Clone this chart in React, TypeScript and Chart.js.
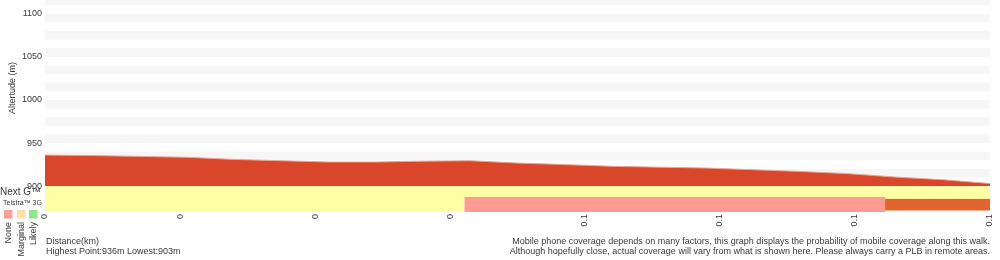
import React, { useEffect, useRef } from 'react';
import { Chart, registerables } from 'chart.js';
Chart.register(...registerables);

const distances = [0, 0.005, 0.01, 0.015, 0.02, 0.025, 0.03, 0.035, 0.04, 0.045, 0.05, 0.055, 0.06, 0.065, 0.07, 0.075, 0.08, 0.085, 0.09, 0.095, 0.1];
const elevations = [936, 935.5, 934.5, 933.5, 931, 929.5, 928, 928, 929, 929.5, 926.8, 925, 923, 922, 921, 919, 917, 914.5, 910.5, 907.5, 903];

const xTickValues = [0, 0.0143, 0.0286, 0.0429, 0.0571, 0.0714, 0.0857, 0.1];
const xTickLabels = ['0', '0', '0', '0', '0.1', '0.1', '0.1', '0.1'];
const yTickValues = [900, 950, 1000, 1050, 1100];

const nextGStart = [0];
const nextGEnd = [0.1];
const nextGLevel = ['marginal'];
const g3Start = [0, 0.0444, 0.0889];
const g3End = [0.0444, 0.0889, 0.1];
const g3Level = ['marginal', 'none', 'unknown'];

const legendLabels = ['None', 'Marginal', 'Likely'];
const legendColors = ['#ff9e9a', '#ffe0a8', '#8ce88c'];
const levelColors: Record<string, string> = { marginal: '#ffffa6', none: '#ff9a94', unknown: '#e0652e' };

const FONT = '"Liberation Sans", Arial, sans-serif';
const TEXT = '#3a3a3a';

const decoPlugin = {
  id: 'deco',
  beforeDatasetsDraw(chart: any) {
    const { ctx, chartArea, scales } = chart;
    const y = scales.y;
    ctx.save();
    ctx.fillStyle = '#f6f6f6';
    for (let v = 1120; v >= 920; v -= 20) {
      const t = Math.max(y.getPixelForValue(v), chartArea.top);
      const b = y.getPixelForValue(v - 10);
      if (b > t) ctx.fillRect(chartArea.left, t, chartArea.right - chartArea.left, b - t);
    }
    ctx.restore();
  },
  afterDatasetsDraw(chart: any) {
    const { ctx, scales } = chart;
    const x = scales.x;
    const y = scales.y;
    ctx.save();
    const row = (starts: number[], ends: number[], levels: string[], top: number, bottom: number) => {
      starts.forEach((s, i) => {
        const l = x.getPixelForValue(s);
        const r = x.getPixelForValue(ends[i]);
        let t = y.getPixelForValue(top);
        let b = y.getPixelForValue(bottom);
        if (levels[i] === 'unknown') { t += 2; b -= 1.5; }
        ctx.fillStyle = levelColors[levels[i]];
        ctx.fillRect(l, t, r - l, b - t);
      });
    };
    row(nextGStart, nextGEnd, nextGLevel, 900, 884.5);
    row(g3Start, g3End, g3Level, 887.5, 870);
    ctx.restore();
  },
  afterDraw(chart: any) {
    const { ctx } = chart;
    ctx.save();
    ctx.fillStyle = TEXT;
    ctx.textBaseline = 'middle';
    // y title
    ctx.save();
    ctx.translate(13, 88);
    ctx.rotate(-Math.PI / 2);
    ctx.textAlign = 'center';
    ctx.font = `9px ${FONT}`;
    ctx.fillText('Altertude (m)', 0, 0);
    ctx.restore();
    // network labels
    ctx.textAlign = 'left';
    ctx.font = `10px ${FONT}`;
    ctx.fillText('Next G™', 0, 192);
    ctx.font = `7px ${FONT}`;
    ctx.fillText('Telstra™ 3G', 3, 203);
    // legend boxes
    const bx = [4, 17, 29];
    legendLabels.forEach((lab, i) => {
      ctx.fillStyle = legendColors[i];
      ctx.fillRect(bx[i], 210, 8.5, 8.5);
      ctx.save();
      ctx.fillStyle = TEXT;
      ctx.translate(bx[i] + 4.5, 222);
      ctx.rotate(-Math.PI / 2);
      ctx.textAlign = 'right';
      ctx.font = `9px ${FONT}`;
      ctx.fillText(lab, 0, 0);
      ctx.restore();
    });
    // footer texts
    ctx.fillStyle = TEXT;
    ctx.font = `9px ${FONT}`;
    ctx.textAlign = 'left';
    ctx.fillText('Distance(km)', 46, 242);
    ctx.fillText('Highest Point:936m Lowest:903m', 46, 252);
    ctx.textAlign = 'right';
    ctx.fillText('Mobile phone coverage depends on many factors, this graph displays the probability of mobile coverage along this walk.', 990, 242);
    ctx.fillText('Although hopefully close, actual coverage will vary from what is shown here. Please always carry a PLB in remote areas.', 990, 252);
    ctx.restore();
  },
};

export default function App() {
  const ref = useRef<HTMLCanvasElement>(null);
  useEffect(() => {
    if (!ref.current) return;
    const chart = new Chart(ref.current, {
      type: 'line',
      data: {
        datasets: [
          {
            data: distances.map((d, i) => ({ x: d, y: elevations[i] })),
            borderColor: '#eaa696',
            borderWidth: 1,
            backgroundColor: '#d9462a',
            fill: { value: 900 },
            pointRadius: 0,
            tension: 0,
          },
        ],
      },
      options: {
        animation: false,
        responsive: false,
        layout: { padding: { left: 0, right: 10, top: 0, bottom: 0 } },
        plugins: { legend: { display: false }, tooltip: { enabled: false } },
        scales: {
          x: {
            type: 'linear',
            min: 0,
            max: 0.1,
            grid: { display: false, drawTicks: false },
            border: { display: false },
            afterBuildTicks: (s: any) => { s.ticks = xTickValues.map((v) => ({ value: v })); },
            afterFit: (s: any) => { s.height = 48; s.paddingLeft = 0; s.paddingRight = 0; },
            ticks: {
              minRotation: 90,
              maxRotation: 90,
              padding: 2,
              autoSkip: false,
              color: TEXT,
              font: { family: FONT, size: 9 },
              callback: (_v: any, i: number) => xTickLabels[i],
            },
          },
          y: {
            type: 'linear',
            min: 870,
            max: 1116,
            grid: { display: false, drawTicks: false },
            border: { display: false },
            afterBuildTicks: (s: any) => { s.ticks = yTickValues.map((v) => ({ value: v })); },
            afterFit: (s: any) => { s.width = 45; s.paddingTop = 0; s.paddingBottom = 0; },
            ticks: {
              padding: 3,
              color: TEXT,
              font: { family: FONT, size: 9 },
              callback: (v: any) => String(v),
            },
          },
        },
      },
      plugins: [decoPlugin],
    } as any);
    return () => chart.destroy();
  }, []);
  return (
    <div style={{ position: 'absolute', left: 0, top: 0, width: 1000, height: 260, background: '#fff' }}>
      <canvas ref={ref} width={1000} height={260} style={{ display: 'block' }} />
    </div>
  );
}
